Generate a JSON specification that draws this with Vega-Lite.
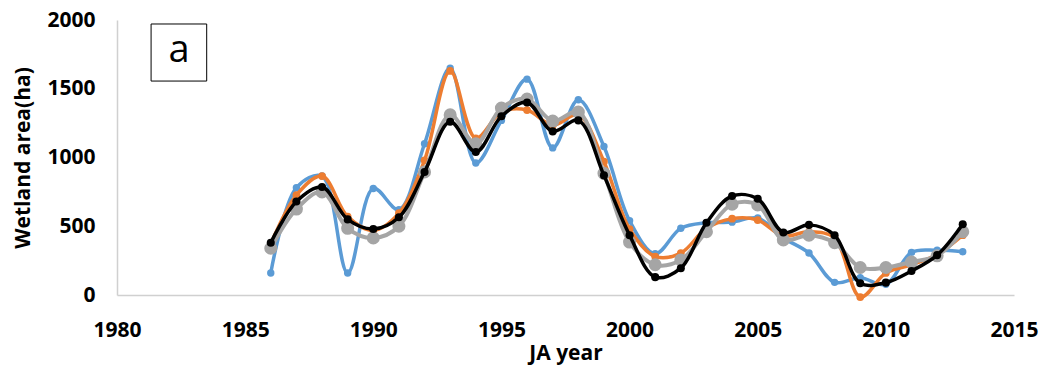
{
  "$schema": "https://vega.github.io/schema/vega-lite/v6.json",
  "width": 897,
  "height": 275,
  "autosize": "none",
  "padding": {"left": 117, "top": 20, "right": 29, "bottom": 77},
  "background": "white",
  "config": {"view": {"stroke": null}},
  "datasets": {
    "series": [
    {"year": 1986, "s": "Blue", "v": 160}, {"year": 1987, "s": "Blue", "v": 780}, {"year": 1988, "s": "Blue", "v": 865}, {"year": 1989, "s": "Blue", "v": 160}, {"year": 1990, "s": "Blue", "v": 775}, {"year": 1991, "s": "Blue", "v": 620}, {"year": 1992, "s": "Blue", "v": 1100}, {"year": 1993, "s": "Blue", "v": 1650}, {"year": 1994, "s": "Blue", "v": 960}, {"year": 1995, "s": "Blue", "v": 1270}, {"year": 1996, "s": "Blue", "v": 1570}, {"year": 1997, "s": "Blue", "v": 1070}, {"year": 1998, "s": "Blue", "v": 1420}, {"year": 1999, "s": "Blue", "v": 1080}, {"year": 2000, "s": "Blue", "v": 540}, {"year": 2001, "s": "Blue", "v": 300}, {"year": 2002, "s": "Blue", "v": 485}, {"year": 2003, "s": "Blue", "v": 525}, {"year": 2004, "s": "Blue", "v": 530}, {"year": 2005, "s": "Blue", "v": 560}, {"year": 2006, "s": "Blue", "v": 415}, {"year": 2007, "s": "Blue", "v": 305}, {"year": 2008, "s": "Blue", "v": 92}, {"year": 2009, "s": "Blue", "v": 125}, {"year": 2010, "s": "Blue", "v": 78}, {"year": 2011, "s": "Blue", "v": 310}, {"year": 2012, "s": "Blue", "v": 325}, {"year": 2013, "s": "Blue", "v": 315},
    {"year": 1986, "s": "Orange", "v": 370}, {"year": 1987, "s": "Orange", "v": 727}, {"year": 1988, "s": "Orange", "v": 865}, {"year": 1989, "s": "Orange", "v": 570}, {"year": 1990, "s": "Orange", "v": 470}, {"year": 1991, "s": "Orange", "v": 595}, {"year": 1992, "s": "Orange", "v": 980}, {"year": 1993, "s": "Orange", "v": 1630}, {"year": 1994, "s": "Orange", "v": 1140}, {"year": 1995, "s": "Orange", "v": 1330}, {"year": 1996, "s": "Orange", "v": 1345}, {"year": 1997, "s": "Orange", "v": 1235}, {"year": 1998, "s": "Orange", "v": 1310}, {"year": 1999, "s": "Orange", "v": 970}, {"year": 2000, "s": "Orange", "v": 480}, {"year": 2001, "s": "Orange", "v": 280}, {"year": 2002, "s": "Orange", "v": 305}, {"year": 2003, "s": "Orange", "v": 485}, {"year": 2004, "s": "Orange", "v": 555}, {"year": 2005, "s": "Orange", "v": 545}, {"year": 2006, "s": "Orange", "v": 430}, {"year": 2007, "s": "Orange", "v": 460}, {"year": 2008, "s": "Orange", "v": 415}, {"year": 2009, "s": "Orange", "v": -15}, {"year": 2010, "s": "Orange", "v": 160}, {"year": 2011, "s": "Orange", "v": 220}, {"year": 2012, "s": "Orange", "v": 295}, {"year": 2013, "s": "Orange", "v": 435},
    {"year": 1986, "s": "Gray", "v": 340}, {"year": 1987, "s": "Gray", "v": 625}, {"year": 1988, "s": "Gray", "v": 750}, {"year": 1989, "s": "Gray", "v": 485}, {"year": 1990, "s": "Gray", "v": 415}, {"year": 1991, "s": "Gray", "v": 500}, {"year": 1992, "s": "Gray", "v": 895}, {"year": 1993, "s": "Gray", "v": 1310}, {"year": 1994, "s": "Gray", "v": 1100}, {"year": 1995, "s": "Gray", "v": 1360}, {"year": 1996, "s": "Gray", "v": 1425}, {"year": 1997, "s": "Gray", "v": 1265}, {"year": 1998, "s": "Gray", "v": 1330}, {"year": 1999, "s": "Gray", "v": 885}, {"year": 2000, "s": "Gray", "v": 385}, {"year": 2001, "s": "Gray", "v": 220}, {"year": 2002, "s": "Gray", "v": 255}, {"year": 2003, "s": "Gray", "v": 460}, {"year": 2004, "s": "Gray", "v": 660}, {"year": 2005, "s": "Gray", "v": 655}, {"year": 2006, "s": "Gray", "v": 400}, {"year": 2007, "s": "Gray", "v": 435}, {"year": 2008, "s": "Gray", "v": 380}, {"year": 2009, "s": "Gray", "v": 200}, {"year": 2010, "s": "Gray", "v": 200}, {"year": 2011, "s": "Gray", "v": 240}, {"year": 2012, "s": "Gray", "v": 285}, {"year": 2013, "s": "Gray", "v": 460},
    {"year": 1986, "s": "Black", "v": 380}, {"year": 1987, "s": "Black", "v": 680}, {"year": 1988, "s": "Black", "v": 785}, {"year": 1989, "s": "Black", "v": 550}, {"year": 1990, "s": "Black", "v": 480}, {"year": 1991, "s": "Black", "v": 565}, {"year": 1992, "s": "Black", "v": 895}, {"year": 1993, "s": "Black", "v": 1260}, {"year": 1994, "s": "Black", "v": 1040}, {"year": 1995, "s": "Black", "v": 1300}, {"year": 1996, "s": "Black", "v": 1400}, {"year": 1997, "s": "Black", "v": 1190}, {"year": 1998, "s": "Black", "v": 1270}, {"year": 1999, "s": "Black", "v": 870}, {"year": 2000, "s": "Black", "v": 435}, {"year": 2001, "s": "Black", "v": 130}, {"year": 2002, "s": "Black", "v": 195}, {"year": 2003, "s": "Black", "v": 525}, {"year": 2004, "s": "Black", "v": 720}, {"year": 2005, "s": "Black", "v": 700}, {"year": 2006, "s": "Black", "v": 455}, {"year": 2007, "s": "Black", "v": 510}, {"year": 2008, "s": "Black", "v": 435}, {"year": 2009, "s": "Black", "v": 85}, {"year": 2010, "s": "Black", "v": 90}, {"year": 2011, "s": "Black", "v": 175}, {"year": 2012, "s": "Black", "v": 290}, {"year": 2013, "s": "Black", "v": 515}
    ],
    "note": [{"label": "a", "x0": 1981.33, "x1": 1983.5, "y0": 1556, "y1": 1971, "xc": 1982.42, "yc": 1763}]
  },
  "layer": [
    {
      "data": {"name": "series"},
      "encoding": {
        "x": {"field": "year", "type": "quantitative",
          "scale": {"domain": [1980, 2015], "nice": false, "zero": false},
          "axis": {"values": [1980, 1985, 1990, 1995, 2000, 2005, 2010, 2015], "format": "d", "labelFlush": false, "grid": false, "ticks": false, "labelPadding": 24, "domainColor": "#D0D0D0", "domainWidth": 1.5, "labelFont": "Open Sans", "labelFontWeight": "bold", "labelFontSize": 21, "labelColor": "#000", "title": "JA year", "titleFont": "Open Sans", "titleFontWeight": "bold", "titleFontSize": 21, "titleColor": "#000", "titlePadding": 2}},
        "y": {"field": "v", "type": "quantitative",
          "scale": {"domain": [0, 2000], "nice": false},
          "axis": {"values": [0, 500, 1000, 1500, 2000], "format": "d", "labelFlush": false, "grid": false, "ticks": false, "labelPadding": 22, "domainColor": "#D0D0D0", "domainWidth": 1.5, "labelFont": "Open Sans", "labelFontWeight": "bold", "labelFontSize": 21, "labelColor": "#000", "title": "Wetland area(ha)", "titleFont": "Open Sans", "titleFontWeight": "bold", "titleFontSize": 21, "titleColor": "#000", "titlePadding": 13}}
      },
      "layer": [
        {"transform": [{"filter": "datum.s === 'Blue'"}],
         "mark": {"type": "line", "interpolate": "catmull-rom", "color": "#5B9BD5", "strokeWidth": 3.5, "point": {"filled": true, "size": 55, "color": "#5B9BD5", "opacity": 1}}},
        {"transform": [{"filter": "datum.s === 'Orange'"}],
         "mark": {"type": "line", "interpolate": "catmull-rom", "color": "#ED7D31", "strokeWidth": 3.5, "point": {"filled": true, "size": 60, "color": "#ED7D31", "opacity": 1}}},
        {"transform": [{"filter": "datum.s === 'Gray'"}],
         "mark": {"type": "line", "interpolate": "catmull-rom", "color": "#A5A5A5", "strokeWidth": 4, "point": {"filled": true, "size": 170, "color": "#A5A5A5", "opacity": 1}}},
        {"transform": [{"filter": "datum.s === 'Black'"}],
         "mark": {"type": "line", "interpolate": "catmull-rom", "color": "#000000", "strokeWidth": 3.5, "point": {"filled": true, "size": 65, "color": "#000000", "opacity": 1}}}
      ]
    },
    {
      "data": {"name": "note"},
      "mark": {"type": "rect", "fill": "white", "stroke": "black", "strokeWidth": 1},
      "encoding": {
        "x": {"field": "x0", "type": "quantitative"}, "x2": {"field": "x1"},
        "y": {"field": "y0", "type": "quantitative"}, "y2": {"field": "y1"}
      }
    },
    {
      "data": {"name": "note"},
      "mark": {"type": "text", "font": "Open Sans", "fontSize": 38, "color": "black", "baseline": "middle", "align": "center", "dy": -2},
      "encoding": {
        "x": {"field": "xc", "type": "quantitative"},
        "y": {"field": "yc", "type": "quantitative"},
        "text": {"field": "label"}
      }
    }
  ]
}
